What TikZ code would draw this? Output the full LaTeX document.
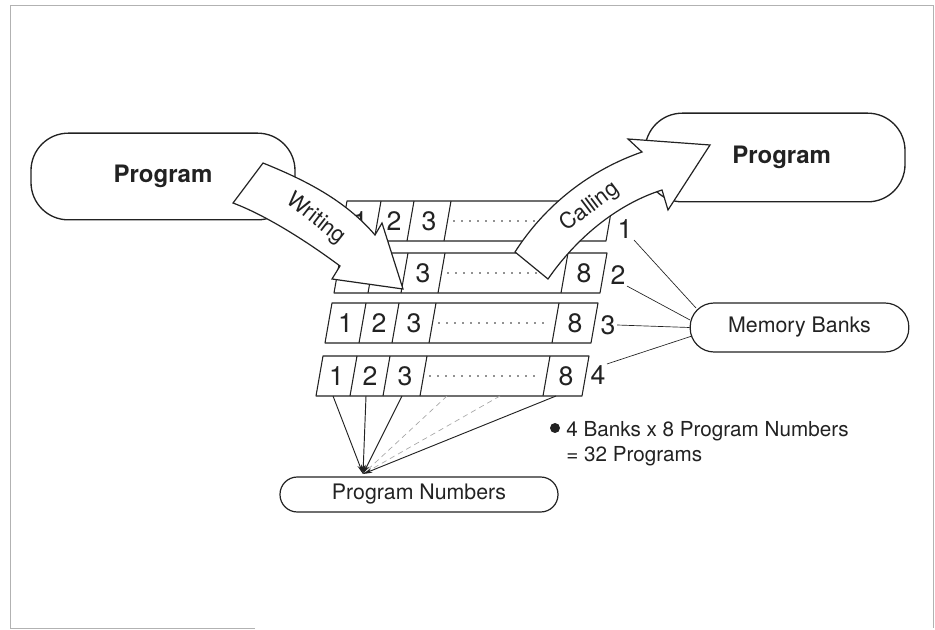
\documentclass[tikz,border=0pt]{standalone}
\usepackage{fontspec}
\setmainfont{TeX Gyre Heros}
\usetikzlibrary{arrows.meta}
\definecolor{ink}{HTML}{222222}
\begin{document}
\begin{tikzpicture}[x=0.75pt,y=-0.75pt,
  pbox/.style={draw=ink, line width=1pt, rounded corners=28pt, inner sep=0pt, text=ink, font=\fontsize{18}{20}\selectfont\bfseries},
  sbox/.style={draw=ink, line width=0.9pt, inner sep=0pt, text=ink, font=\fontsize{16}{18}\selectfont},
  dig/.style={inner sep=0pt, text=ink, font=\fontsize{20}{22}\selectfont},
  lbl/.style={inner sep=1pt, text=ink, font=\fontsize{20}{22}\selectfont},
  rowline/.style={draw=ink, line width=0.8pt, line join=round},
  dotrow/.style={draw=ink, line width=1.3pt, line cap=round, dash pattern=on 0pt off 6pt},
  bigarrow/.style={draw=ink, fill=white, line width=0.9pt, line join=miter},
  arrowtext/.style={text=ink, font=\fontsize{16.5}{18}\selectfont, inner sep=0pt},
  conn/.style={draw=ink, line width=0.5pt},
  pconn/.style={draw=ink, line width=0.7pt, -{Stealth[length=7pt,width=3.5pt]}},
  dconn/.style={draw=gray!70, line width=0.5pt, dash pattern=on 4pt off 3pt},
  myframe/.style={draw=gray!60, line width=0.6pt},
  note/.style={text=ink, font=\fontsize{15.5}{18}\selectfont, inner sep=0pt}
]
\useasboundingbox (0,0) rectangle (935,630);
% frame
\draw[myframe] (255,628) -- (10,628) -- (10,5) -- (933,5) -- (933,628);

% program boxes
\node[pbox, minimum width=198pt, minimum height=65pt] (lp) at (163,176.5) {Program};
\node[pbox, minimum width=195pt, minimum height=66.5pt] (rp) at (775,157.5) {\hspace*{10pt}Program};

% memory bank rows (outlines and dots)
\foreach \L/\T in {347/201, 341/253, 332/303, 323/356} {
  \draw[rowline] (\L,\T) -- (\L+266,\T) -- (\L+259,\T+40) -- (\L-7,\T+40) -- cycle;
  \foreach \o in {34,67,104,227} \draw[rowline] (\L+\o,\T) -- (\L+\o-7,\T+40);
  \draw[dotrow] (\L+107,\T+20) -- (\L+218,\T+20);
}
% visible cell numbers
\foreach \r/\L/\T in {1/347/201, 3/332/303, 4/323/356} {
  \node[dig] (d\r-1) at (\L+13.5,\T+20) {1};
  \node[dig] (d\r-2) at (\L+47,\T+20) {2};
}
\foreach \r/\L/\T in {1/347/201, 2/341/253, 3/332/303, 4/323/356} {
  \node[dig] (d\r-3) at (\L+82,\T+20) {3};
}
\foreach \r/\L/\T in {2/341/253, 3/332/303, 4/323/356} {
  \node[dig] (d\r-8) at (\L+243,\T+20) {8};
}

% Writing arrow
\draw[bigarrow] (263,163) .. controls (305,180) and (345,200) .. (375,235) -- (382,223) -- (403,289) -- (332,279) -- (340,266) .. controls (305,240) and (265,215) .. (233,203) -- cycle;
\node[arrowtext, rotate=-38] (tw) at (316,219) {Writing};

% Calling arrow
\draw[bigarrow] (515,252) .. controls (545,205) and (590,170) .. (642,152) -- (628,139) -- (710,145) -- (668,210) -- (662,190) .. controls (615,205) and (575,240) .. (548,279) -- cycle;
\node[arrowtext, rotate=37] (tc) at (590,207) {Calling};

% bank labels
\node[lbl] (l1) at (625,229) {1};
\node[lbl] (l2) at (618,275) {2};
\node[lbl] (l3) at (608,325) {3};
\node[lbl] (l4) at (598,375) {4};

% memory banks box
\node[sbox, rounded corners=18pt, minimum width=164pt, minimum height=36.75pt] (mb) at (799.5,327.5) {Memory Banks};
\coordinate (m1) at (696,308);
\coordinate (m2) at (690,320);
\coordinate (m4) at (692,336);
\draw[conn] (l1.south east) -- (m1);
\draw[conn] (l2.south east) -- (m2);
\draw[conn] (l3.east) -- (mb.west);
\draw[conn] (l4.north east) -- (m4);

% program numbers box
\node[sbox, rounded corners=13pt, minimum width=208.5pt, minimum height=26.25pt] (pn) at (419,494.5) {Program Numbers};
\coordinate (cv) at (363,474);
\coordinate (b1) at (333,396);
\coordinate (b2) at (366,396);
\coordinate (b3) at (402,396);
\coordinate (b4) at (447,396);
\coordinate (b5) at (500,396);
\coordinate (b6) at (556,396);
\draw[dconn] (b4) -- (cv);
\draw[dconn] (b5) -- (cv);
\draw[pconn] (b1) -- (cv);
\draw[pconn] (b2) -- (cv);
\draw[pconn] (b3) -- (cv);
\draw[pconn] (b6) -- (cv);

% note
\node[circle, fill=ink, inner sep=0pt, minimum size=7.5pt] (bul) at (555,428) {};
\node[note, anchor=base west] (n1) at (566,437) {4 Banks x 8 Program Numbers};
\node[note, anchor=base west] (n2) at (566,462) {= 32 Programs};
\end{tikzpicture}
\end{document}
